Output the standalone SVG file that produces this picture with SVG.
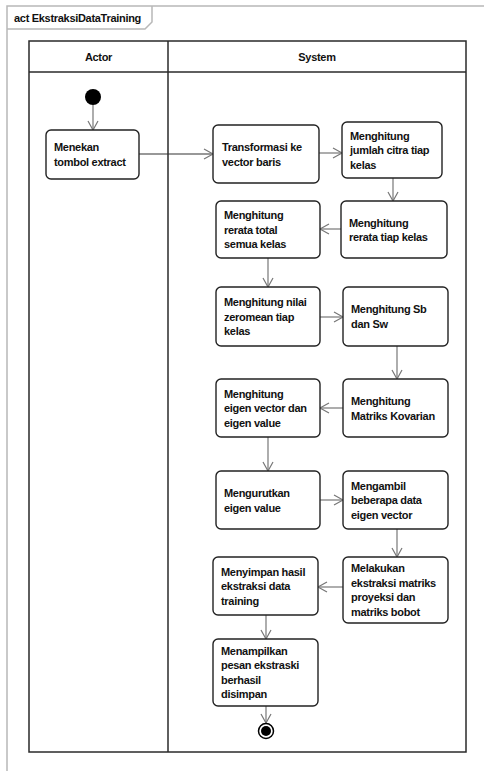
<svg xmlns="http://www.w3.org/2000/svg" width="484" height="771" viewBox="0 0 484 771">
<style>
.frame{fill:none;stroke:#b8b8b8;stroke-width:1.5}
.lane{fill:none;stroke:#2a2a2a;stroke-width:1.5}
.node rect{fill:#fff;stroke:#222;stroke-width:1.4}
text{font-family:"Liberation Sans",Arial,sans-serif;font-weight:bold;font-size:11px;letter-spacing:-0.3px;fill:#111}
.edge{fill:none;stroke:#777;stroke-width:1.2;marker-end:url(#arr)}
.edge.dark{stroke:#333}
</style>
<defs>
<marker id="arr" markerUnits="userSpaceOnUse" markerWidth="12" markerHeight="12" viewBox="0 0 12 12" refX="10" refY="6" orient="auto">
<path d="M1,1 L10,6 L1,11" fill="none" stroke="#777" stroke-width="1.2"/>
</marker>
</defs>
<rect width="484" height="771" fill="#fff"/>
<g id="frame">
<path class="frame" d="M7,780 L7,6 L490,6"/>
<path class="frame" d="M7,29 L145,29 L152,22 L152,6"/>
<text x="14" y="22">act EkstraksiDataTraining</text>
</g>
<g id="lanes">
<rect class="lane" x="29" y="41" width="437" height="711"/>
<line class="lane" x1="29" y1="72" x2="466" y2="72"/>
<line class="lane" x1="168" y1="41" x2="168" y2="752"/>
<text x="98.5" y="61" text-anchor="middle">Actor</text>
<text x="317" y="61" text-anchor="middle">System</text>
</g>
<g id="connectors">
<path class="edge" d="M93,105 L93,130"/>
<path class="edge dark" d="M139,154 L213,154"/>
<path class="edge" d="M319,153 L342,153"/>
<path class="edge" d="M393,178 L393,201"/>
<path class="edge" d="M341,229 L320,229"/>
<path class="edge" d="M268,258 L268,287"/>
<path class="edge" d="M320,317 L343,317"/>
<path class="edge" d="M397,346 L397,379"/>
<path class="edge" d="M343,408 L320,408"/>
<path class="edge" d="M268,437 L268,471"/>
<path class="edge" d="M320,500 L343,500"/>
<path class="edge" d="M397,529 L397,557"/>
<path class="edge" d="M343,587 L318,587"/>
<path class="edge" d="M266,615 L266,639"/>
<path class="edge" d="M266,706 L266,723"/>
</g>
<g id="start"><circle cx="93" cy="97" r="8" fill="#000"/></g>
<g id="n1" class="node"><rect x="46" y="130" width="93" height="49" rx="5"/>
<text x="54"><tspan x="54" y="151">Menekan</tspan><tspan x="54" y="165.5">tombol extract</tspan></text></g>
<g id="n2" class="node"><rect x="213" y="125" width="106" height="58" rx="5"/>
<text><tspan x="222" y="151">Transformasi ke</tspan><tspan x="222" y="165.5">vector baris</tspan></text></g>
<g id="n3" class="node"><rect x="342" y="122" width="100" height="56" rx="5"/>
<text><tspan x="350" y="139.5">Menghitung</tspan><tspan x="350" y="154">jumlah citra tiap</tspan><tspan x="350" y="168.5">kelas</tspan></text></g>
<g id="n4" class="node"><rect x="341" y="201" width="106" height="57" rx="5"/>
<text><tspan x="349" y="226.5">Menghitung</tspan><tspan x="349" y="241">rerata tiap kelas</tspan></text></g>
<g id="n5" class="node"><rect x="216" y="201" width="104" height="57" rx="5"/>
<text><tspan x="224" y="219">Menghitung</tspan><tspan x="224" y="233.5">rerata total</tspan><tspan x="224" y="248">semua kelas</tspan></text></g>
<g id="n6" class="node"><rect x="216" y="287" width="104" height="59" rx="5"/>
<text><tspan x="224" y="306">Menghitung nilai</tspan><tspan x="224" y="320.5">zeromean tiap</tspan><tspan x="224" y="335">kelas</tspan></text></g>
<g id="n7" class="node"><rect x="343" y="287" width="105" height="59" rx="5"/>
<text><tspan x="351" y="313">Menghitung Sb</tspan><tspan x="351" y="327.5">dan Sw</tspan></text></g>
<g id="n8" class="node"><rect x="343" y="379" width="105" height="58" rx="5"/>
<text><tspan x="351" y="405">Menghitung</tspan><tspan x="351" y="419.5">Matriks Kovarian</tspan></text></g>
<g id="n9" class="node"><rect x="216" y="379" width="104" height="58" rx="5"/>
<text><tspan x="224" y="397.5">Menghitung</tspan><tspan x="224" y="412">eigen vector dan</tspan><tspan x="224" y="426.5">eigen value</tspan></text></g>
<g id="n10" class="node"><rect x="216" y="471" width="104" height="58" rx="5"/>
<text><tspan x="224" y="497">Mengurutkan</tspan><tspan x="224" y="511.5">eigen value</tspan></text></g>
<g id="n11" class="node"><rect x="343" y="471" width="105" height="58" rx="5"/>
<text><tspan x="351" y="489.5">Mengambil</tspan><tspan x="351" y="504">beberapa data</tspan><tspan x="351" y="518.5">eigen vector</tspan></text></g>
<g id="n12" class="node"><rect x="343" y="557" width="105" height="66" rx="5"/>
<text><tspan x="351" y="572">Melakukan</tspan><tspan x="351" y="586.5">ekstraksi matriks</tspan><tspan x="351" y="601">proyeksi dan</tspan><tspan x="351" y="615.5">matriks bobot</tspan></text></g>
<g id="n13" class="node"><rect x="213" y="557" width="105" height="58" rx="5"/>
<text><tspan x="221" y="575.5">Menyimpan hasil</tspan><tspan x="221" y="590">ekstraksi data</tspan><tspan x="221" y="604.5">training</tspan></text></g>
<g id="n14" class="node"><rect x="213" y="639" width="105" height="67" rx="5"/>
<text><tspan x="221" y="654.5">Menampilkan</tspan><tspan x="221" y="669">pesan ekstraski</tspan><tspan x="221" y="683.5">berhasil</tspan><tspan x="221" y="698">disimpan</tspan></text></g>
<g id="end"><circle cx="266" cy="731" r="7.5" fill="#fff" stroke="#000" stroke-width="1.5"/><circle cx="266" cy="731" r="5" fill="#000"/></g>
</svg>
